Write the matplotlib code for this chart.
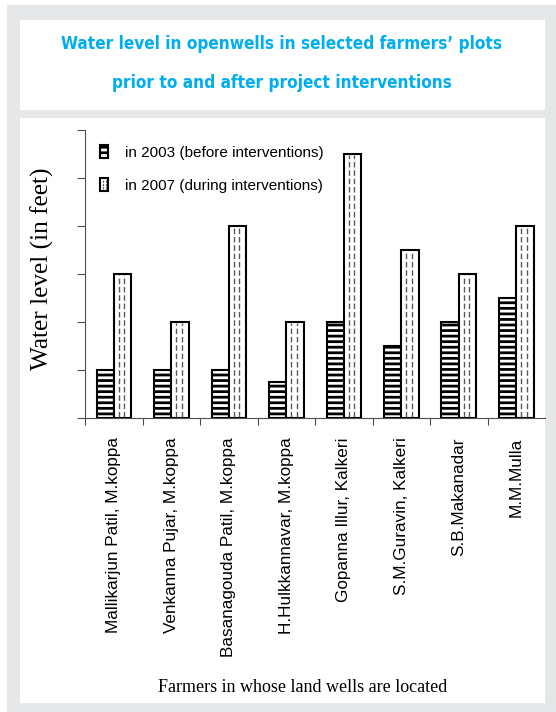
import matplotlib
matplotlib.use("Agg")
import matplotlib.pyplot as plt
from matplotlib.patches import Rectangle
from matplotlib.lines import Line2D
from matplotlib.legend_handler import HandlerBase
import numpy as np

# ---------------------------------------------------------
# Data (units = one y tick)
# ---------------------------------------------------------
farmers = ["Mallikarjun Patil, M.koppa", "Venkanna Pujar, M.koppa",
           "Basanagouda Patil, M.koppa", "H.Hulkkannavar, M.koppa",
           "Gopanna Illur, Kalkeri", "S.M.Guravin, Kalkeri",
           "S.B.Makanadar", "M.M.Mulla"]
level_2003 = [1, 1, 1, 0.75, 2, 1.5, 2, 2.5]
level_2007 = [3, 2, 4, 2, 5.5, 3.5, 3, 4]
series_labels = ["in 2003 (before interventions)", "in 2007 (during interventions)"]

W, H = 556, 712
GRAY = "#e6e7e8"
BLUE = "#00aeef"

plt.rcParams['hatch.linewidth'] = 2.0


def px(x0, y0, x1, y1):
    # pixel box (top-left origin) -> figure fraction rect
    return [x0 / W, 1 - y1 / H, (x1 - x0) / W, (y1 - y0) / H]


class DashedBarHandler(HandlerBase):
    def create_artists(self, legend, orig_handle, xdescent, ydescent,
                       width, height, fontsize, trans):
        r = Rectangle((-xdescent, -ydescent), width, height, facecolor='white',
                      edgecolor='black', lw=1.5, transform=trans)
        arts = [r]
        for f in (0.35, 0.68):
            arts.append(Line2D([-xdescent + width * f] * 2,
                               [-ydescent + 1.5, -ydescent + height - 1.5],
                               ls=(0, (2, 1)), lw=0.8, color='0.35', transform=trans))
        return arts


fig = plt.figure(figsize=(W / 100, H / 100), dpi=100, facecolor='white')

# background frame and white panels (behind the axes)
for box, col in [((7, 5, 556, 712), GRAY), ((20, 20, 545, 110), 'white'),
                 ((20, 118, 545, 703), 'white')]:
    l, b, w, h = px(*box)
    fig.patches.append(Rectangle((l, b), w, h, transform=fig.transFigure,
                                 facecolor=col, edgecolor='none', zorder=-5))

# title
title_font = dict(ha='center', va='center', color=BLUE, fontsize=12.3, fontweight='bold',
                  family=['DejaVu Sans Condensed', 'DejaVu Sans'], fontstretch='condensed')
fig.text(0.507, 1 - 44 / H, "Water level in openwells in selected farmers\u2019 plots", **title_font)
fig.text(0.507, 1 - 83 / H, "prior to and after project interventions", **title_font)

ax = fig.add_axes(px(85, 130, 545, 418))
ax.set_facecolor('none')
x = np.arange(len(farmers))
bw = 0.3

b03 = ax.bar(x - bw / 2, level_2003, bw, facecolor='white', edgecolor='black',
             hatch='---', lw=1.5, label=series_labels[0], zorder=3)
b07 = ax.bar(x + bw / 2, level_2007, bw, facecolor='white', edgecolor='black',
             lw=1.5, label=series_labels[1], zorder=3)

# dashed vertical fill lines inside the 2007 bars
for rect in b07:
    x0, w, h = rect.get_x(), rect.get_width(), rect.get_height()
    ax.vlines([x0 + w * 0.29, x0 + w * 0.6], 0.02, h - 0.02, colors='0.35',
              linestyles=(0, (4, 2)), lw=1.0, zorder=4)

ax.set_xlim(-0.5, len(farmers) - 0.5)
ax.set_ylim(0, 6)
ax.set_yticks(np.arange(0, 7))
ax.set_yticklabels([])
ax.tick_params(axis='y', direction='out', length=6, width=0.8, color='0.3')

ax.set_xticks(x)
ax.set_xticklabels(farmers, rotation=90, fontsize=12.3, family='Liberation Sans', va='top')
ax.tick_params(axis='x', which='major', length=0, pad=14)
ax.set_xticks(np.arange(-0.5, len(farmers) - 0.5), minor=True)
ax.tick_params(axis='x', which='minor', direction='out', length=5, width=0.8, color='0.3')

for s in ['top', 'right']:
    ax.spines[s].set_visible(False)
for s in ['left', 'bottom']:
    ax.spines[s].set_color('0.3')
    ax.spines[s].set_linewidth(0.8)

fig.text(42 / W, 1 - 269 / H, "Water level (in feet)", rotation=90, ha='center',
         va='center', fontsize=18.2, family='Liberation Serif')
fig.text(303 / W, 1 - 687 / H, "Farmers in whose land wells are located",
         ha='center', va='center', fontsize=13, family='Liberation Serif')

leg = ax.legend(handles=[b03, b07], labels=series_labels,
                handler_map={b07: DashedBarHandler()},
                loc='upper left', bbox_to_anchor=(100 / W, 1 - 145 / H),
                bbox_transform=fig.transFigure, frameon=False,
                prop={'family': 'Liberation Sans', 'size': 11},
                handlelength=0.55, handleheight=0.95, handletextpad=1.1,
                labelspacing=1.2, borderpad=0, borderaxespad=0)

fig.savefig("out.png", dpi=100, facecolor=fig.get_facecolor())
